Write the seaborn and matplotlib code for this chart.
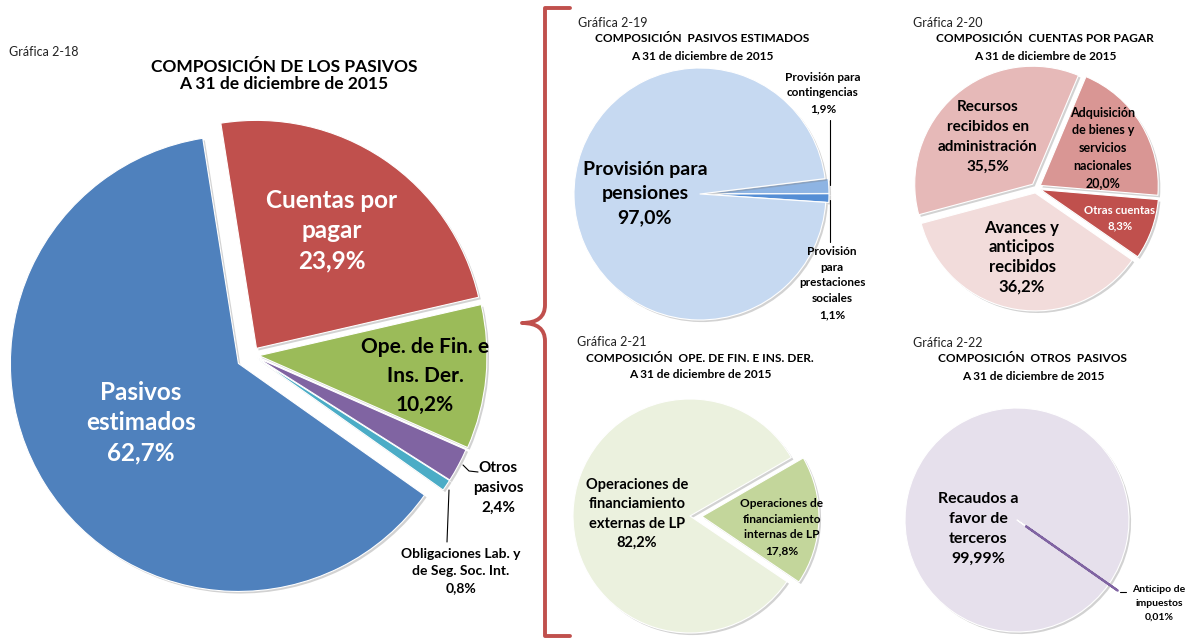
import matplotlib
matplotlib.use("Agg")
import matplotlib.pyplot as plt
import matplotlib.patheffects as pe
from matplotlib.path import Path
from matplotlib.patches import PathPatch
import seaborn as sns

# ---- datos (porcentajes) ----
# Grafica 2-18
pasivos_labels = ["Cuentas por\npagar", "Ope. de Fin. e\nIns. Der.", "Otros\npasivos",
                  "Obligaciones Lab. y\nde Seg. Soc. Int.", "Pasivos\nestimados"]
pasivos_pct = [23.9, 10.2, 2.4, 0.8, 62.7]

# Grafica 2-19
estimados_labels = ["Provisión para\ncontingencias", "Provisión\npara\nprestaciones\nsociales",
                    "Provisión para\npensiones"]
estimados_pct = [1.9, 1.1, 97.0]

# Grafica 2-20
cuentas_labels = ["Recursos\nrecibidos en\nadministración",
                  "Adquisición\nde bienes y\nservicios\nnacionales",
                  "Otras cuentas", "Avances y\nanticipos\nrecibidos"]
cuentas_pct = [35.5, 20.0, 8.3, 36.2]

# Grafica 2-21
ope_labels = ["Operaciones de\nfinanciamiento\ninternas de LP",
              "Operaciones de\nfinanciamiento\nexternas de LP"]
ope_pct = [17.8, 82.2]

# Grafica 2-22
otros_labels = ["Anticipo de\nimpuestos", "Recaudos a\nfavor de\nterceros"]
otros_pct = [0.01, 99.99]

titulos = ["COMPOSICIÓN DE LOS PASIVOS", "COMPOSICIÓN  PASIVOS ESTIMADOS",
           "COMPOSICIÓN  CUENTAS POR PAGAR", "COMPOSICIÓN  OPE. DE FIN. E INS. DER.",
           "COMPOSICIÓN  OTROS  PASIVOS"]
fecha = "A 31 de diciembre de 2015"
numeros = ["Gráfica 2-18", "Gráfica 2-19", "Gráfica 2-20", "Gráfica 2-21", "Gráfica 2-22"]

sns.set_theme(style="white")
plt.rcParams['font.family'] = ['Lato', 'DejaVu Sans']

W, H = 1204, 643
fig = plt.figure(figsize=(W / 100, H / 100), dpi=100)
ax = fig.add_axes([0, 0, 1, 1])


def fmt(v, d=1):
    return f"{v:.{d}f}%".replace(".", ",")


def Y(y):
    return H - y


def pie(vals, colors, center, radius, start, explode):
    wedges, _ = ax.pie(vals, colors=colors, center=(center[0], Y(center[1])), radius=radius,
                       startangle=start, counterclock=False, explode=explode,
                       wedgeprops=dict(edgecolor='white', linewidth=0.8, joinstyle='round'))
    for w in wedges:
        w.set_path_effects([pe.SimplePatchShadow(offset=(1.5, -1.5), shadow_rgbFace='#808080', alpha=0.35),
                            pe.Normal()])
    return wedges


def lab(x, y, s, size, color='black', weight='bold', ls=1.55):
    ax.text(x, Y(y), s, ha='center', va='center', fontsize=size, color=color,
            fontweight=weight, linespacing=ls)


def encabezado(x0, xc, y0, num, titulo):
    ax.text(x0, Y(y0), num, ha='left', va='center', fontsize=9, color='#222222')
    lab(xc, y0 + 16, titulo, 8.6)
    lab(xc, y0 + 33, fecha, 8.6)


# ---- Grafica 2-18 ----
pie(pasivos_pct, ['#C0504D', '#9BBB59', '#8064A2', '#4BACC6', '#4F81BD'],
    (252, 355), 228, 99, [8, 7, 6, 6, 16])
ax.text(9, Y(52), numeros[0], ha='left', va='center', fontsize=9, color='#222222')
lab(284, 67, titulos[0], 12.5)
lab(284, 84, fecha, 12.5)
lab(332, 231, pasivos_labels[0] + "\n" + fmt(pasivos_pct[0]), 17.5, 'white', ls=1.39)
lab(425, 376, pasivos_labels[1] + "\n" + fmt(pasivos_pct[1]), 15)
lab(498, 488, pasivos_labels[2] + "\n" + fmt(pasivos_pct[2]), 11)
lab(461, 571, pasivos_labels[3] + "\n" + fmt(pasivos_pct[3]), 10)
lab(141, 423, pasivos_labels[4] + "\n" + fmt(pasivos_pct[4]), 17.5, 'white', ls=1.39)
ax.plot([463, 469, 478], [Y(465), Y(471), Y(472)], color='black', lw=0.8)
ax.plot([449, 447], [Y(490), Y(542)], color='black', lw=0.8)

# ---- Grafica 2-19 ----
encabezado(578, 702, 23, numeros[1], titulos[1])
pie(estimados_pct, ['#8EB4E3', '#558ED5', '#C6D9F1'], (700, 194), 126, 7, [3, 3, 0])
lab(823, 93, estimados_labels[0] + "\n" + fmt(estimados_pct[0]), 8.5)
lab(832, 283, estimados_labels[1] + "\n" + fmt(estimados_pct[1]), 8.5)
lab(645, 194, estimados_labels[2] + "\n" + fmt(estimados_pct[2]), 14, ls=1.5)
ax.plot([830, 830], [Y(120), Y(185)], color='black', lw=0.8)
ax.plot([830, 830], [Y(200), Y(242)], color='black', lw=0.8)

# ---- Grafica 2-20 ----
encabezado(913, 1045, 23, numeros[2], titulos[2])
pie(cuentas_pct, ['#E6B9B8', '#D99694', '#C0504D', '#F2DCDB'], (1036, 188), 118, 195, [5, 5, 5, 5])
lab(988, 137, cuentas_labels[0] + "\n" + fmt(cuentas_pct[0]), 11)
lab(1103, 148, cuentas_labels[1] + "\n" + fmt(cuentas_pct[1]), 9)
lab(1120, 218, cuentas_labels[2] + "\n" + fmt(cuentas_pct[2]), 8.2, 'white', ls=1.5)
lab(1022, 257, cuentas_labels[3] + "\n" + fmt(cuentas_pct[3]), 12, ls=1.28)

# ---- Grafica 2-21 ----
encabezado(577, 700, 342, numeros[3], titulos[3])
pie(ope_pct, ['#C3D69B', '#EBF1DE'], (690, 516), 117, 30, [12, 0])
lab(782, 527, ope_labels[0] + "\n" + fmt(ope_pct[0]), 8.6)
lab(637, 514, ope_labels[1] + "\n" + fmt(ope_pct[1]), 10.5, ls=1.48)

# ---- Grafica 2-22 ----
encabezado(913, 1033, 343, numeros[4], titulos[4])
w = pie(otros_pct, ['#8064A2', '#E6E0EC'], (1017, 520), 112, -35, [11, 0])
w[0].set_edgecolor('#8064A2')
w[0].set_linewidth(1.6)
w[0].set_zorder(3)
lab(1159, 603, otros_labels[0] + "\n" + fmt(otros_pct[0], 2), 7.5, ls=1.7)
lab(978, 529, otros_labels[1] + "\n" + fmt(otros_pct[1], 2), 11.5)
ax.plot([1120, 1126], [Y(592), Y(592)], color='black', lw=0.8)

# ---- llave ----
llave = Path([(570, Y(8)), (545, Y(8)), (545, Y(305)), (545, Y(323)), (522, Y(323)),
              (545, Y(323)), (545, Y(341)), (545, Y(636)), (570, Y(636))],
             [Path.MOVETO, Path.LINETO, Path.LINETO, Path.CURVE3, Path.CURVE3,
              Path.CURVE3, Path.CURVE3, Path.LINETO, Path.LINETO])
ax.add_patch(PathPatch(llave, fill=False, edgecolor='#C0504D', lw=2.8, joinstyle='round', capstyle='round'))

ax.set_xlim(0, W)
ax.set_ylim(0, H)
ax.set_aspect('equal')
ax.axis('off')

fig.savefig("out.png", dpi=100)
